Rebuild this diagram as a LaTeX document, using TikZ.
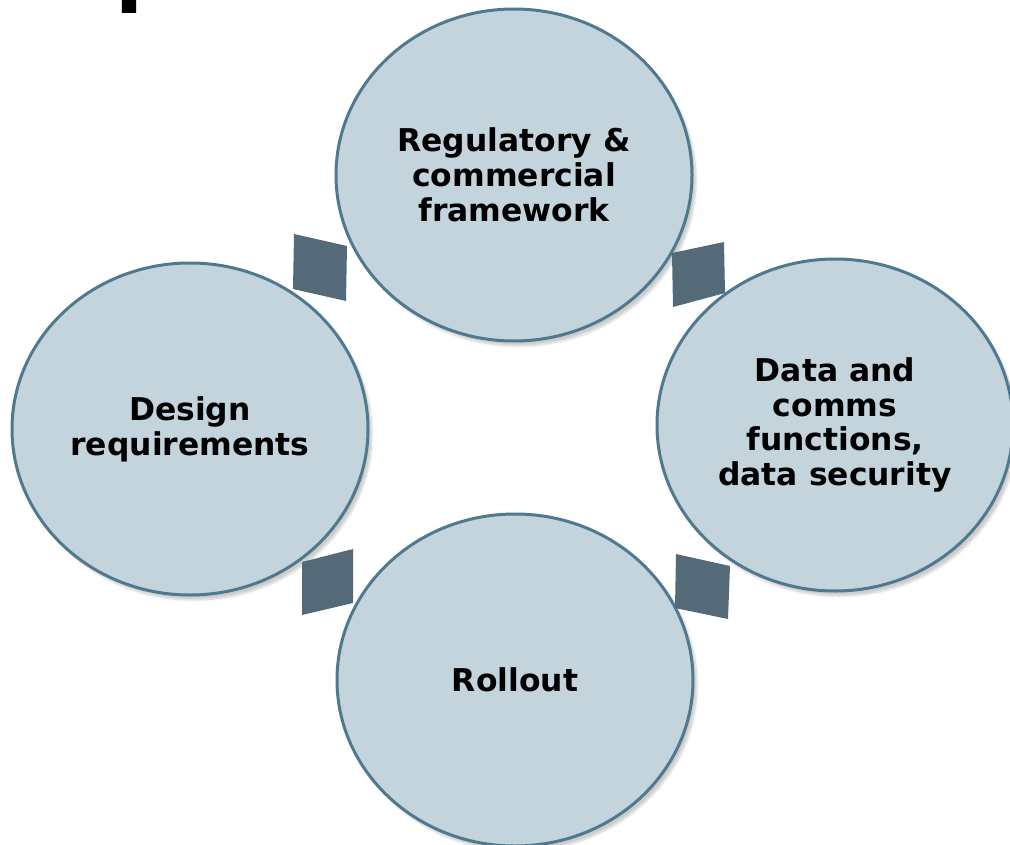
\documentclass[tikz,border=0pt]{standalone}
\usepackage{fontspec}
\setmainfont{DejaVu Sans}
\usepackage{tikz}
\usetikzlibrary{shapes.geometric}
\usetikzlibrary{shadows.blur}
\definecolor{phasefill}{RGB}{195,212,221}
\definecolor{phaseline}{RGB}{78,121,143}
\definecolor{gapfill}{RGB}{84,106,121}
\tikzstyle{every phase} = []
\tikzstyle{phase} = [ellipse, draw=phaseline, line width=3bp, fill=phasefill, inner sep=0pt, minimum width=356bp, minimum height=332bp, align=center, font=\bfseries\fontsize{31.5}{35}\selectfont, blur shadow={shadow xshift=4bp, shadow yshift=-5bp, shadow opacity=20, shadow blur steps=8}, every phase]
\tikzstyle{gap} = [fill=gapfill]
\tikzstyle{titletext} = [anchor=base west, inner sep=0pt, font=\bfseries\fontsize{82}{90}\selectfont]

\begin{document}
\begin{tikzpicture}[x=1bp, y=-1bp]

        \path[use as bounding box, clip] (0,0) rectangle (1010,845);

        % title, cut off at the top
        \node[titletext] (title) at (49,-3) {Update};

        \node[phase] (regulatory) at (514,175) {Regulatory \&\\commercial\\framework};
        \node[phase] (design) at (190,429) {Design\\requirements};
        \node[phase] (datacomms) at (835,425) {Data and\\comms\\functions,\\data security};
        \node[phase] (rollout) at (515,680) {Rollout};

        % the four gaps between the phases
        \fill[gap] (294,234) -- (347,246) -- (346,301) -- (293,289) -- cycle;
        \fill[gap] (672,253) -- (724,242) -- (725,293) -- (673,307) -- cycle;
        \fill[gap] (302,562) -- (353,549) -- (353,603) -- (302,615) -- cycle;
        \fill[gap] (676,554) -- (730,566) -- (728,619) -- (675,608) -- cycle;

\end{tikzpicture}
\end{document}
